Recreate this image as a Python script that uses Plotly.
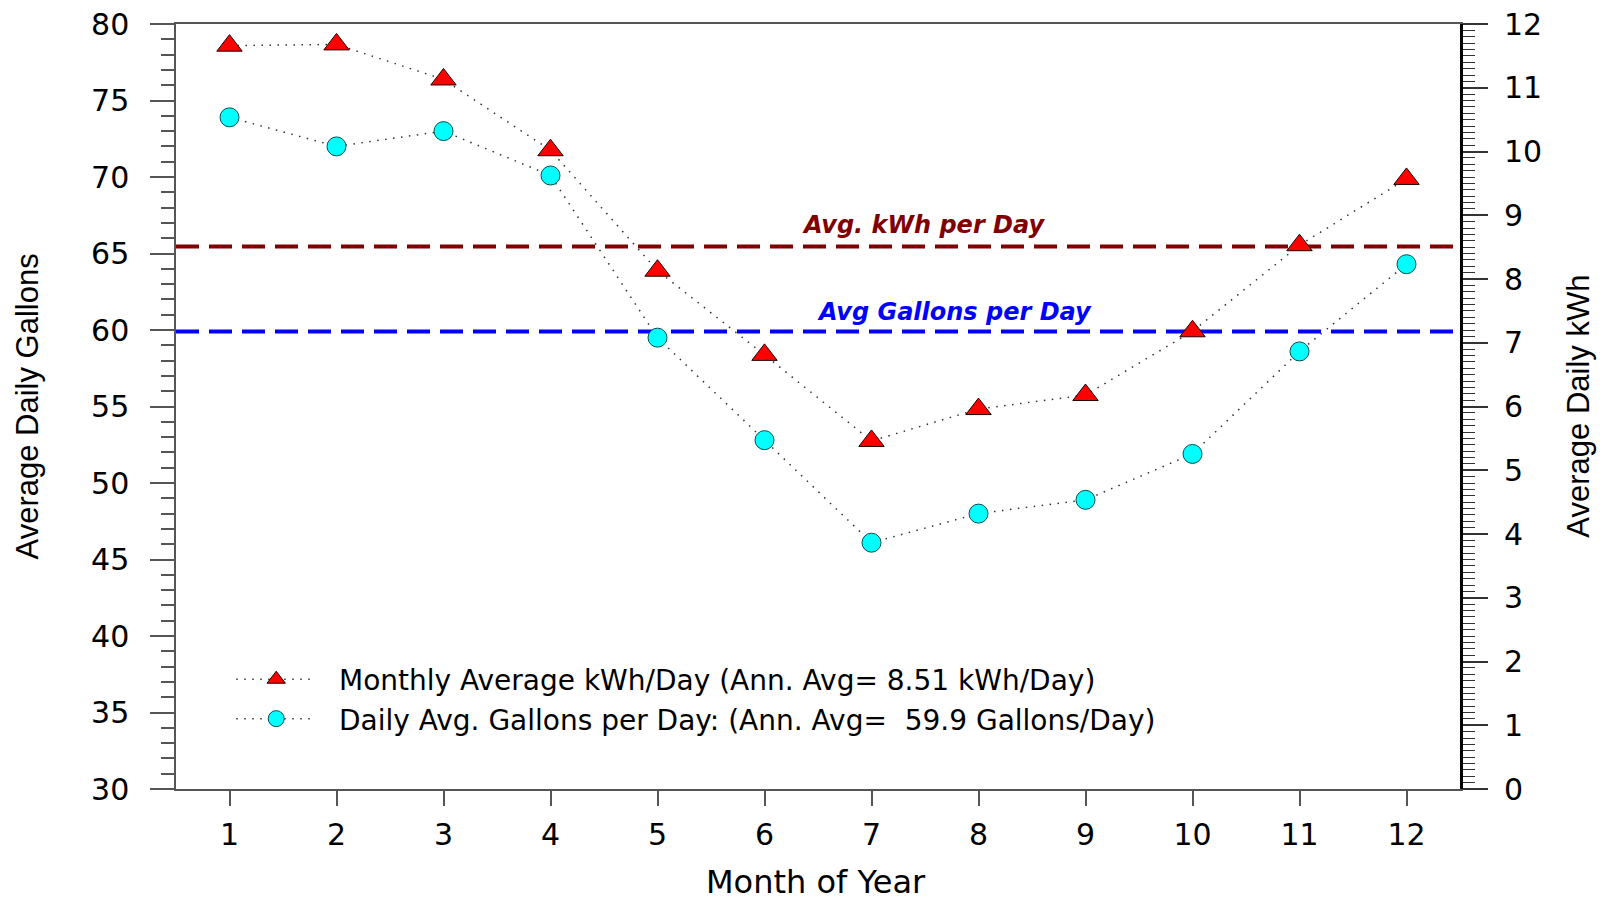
import plotly.graph_objects as go

MONTHS = [1, 2, 3, 4, 5, 6, 7, 8, 9, 10, 11, 12]
KWH_PER_DAY = [11.66, 11.68, 11.13, 10.02, 8.13, 6.81, 5.46, 5.96, 6.18, 7.18, 8.53, 9.57]
GALLONS_PER_DAY = [73.9, 72.0, 73.0, 70.1, 59.5, 52.8, 46.1, 48.0, 48.9, 51.9, 58.6, 64.3]
AVG_KWH = 8.51
AVG_GAL = 59.9

NAME_KWH = "\u00a0\u00a0Monthly Average kWh/Day (Ann. Avg= 8.51 kWh/Day)"
NAME_GAL = "\u00a0\u00a0Daily Avg. Gallons per Day: (Ann. Avg=\u00a0 59.9 Gallons/Day)"
LABEL_KWH = "Avg. kWh per Day"
LABEL_GAL = "Avg Gallons per Day"
X_TITLE = "Month of Year"
Y_TITLE = "Average Daily Gallons"
Y2_TITLE = "Average Daily kWh"

TICK_FONT = dict(family="DejaVu Sans", size=30, color="black")
NARROW = "Liberation Sans Narrow, Liberation Sans, Arial, sans-serif"

fig = go.Figure()

fig.add_trace(go.Scatter(
    x=MONTHS, y=KWH_PER_DAY, yaxis="y2", name=NAME_KWH,
    mode="lines+markers",
    line=dict(color="#303030", width=1.5, dash="1.5px,6.5px"),
    marker=dict(symbol="triangle-up", size=22, color="#FF0000",
                line=dict(color="#200000", width=1)),
))
fig.add_trace(go.Scatter(
    x=MONTHS, y=GALLONS_PER_DAY, yaxis="y", name=NAME_GAL,
    mode="lines+markers",
    line=dict(color="#303030", width=1.5, dash="1.5px,6.5px"),
    marker=dict(symbol="circle", size=19, color="#00FFFF",
                line=dict(color="#005050", width=1)),
))

fig.add_shape(type="line", xref="x domain", x0=0, x1=1, yref="y2", y0=AVG_KWH, y1=AVG_KWH,
              line=dict(color="#800000", width=4, dash="23px,10px"), layer="below")
fig.add_shape(type="line", xref="x domain", x0=0, x1=1, yref="y", y0=AVG_GAL, y1=AVG_GAL,
              line=dict(color="#0000FF", width=4, dash="23px,10px"), layer="below")

fig.add_annotation(x=7.49, y=AVG_KWH, xref="x", yref="y2", text=LABEL_KWH,
                   showarrow=False, yanchor="bottom", yshift=5,
                   font=dict(family="DejaVu Sans", size=24, color="#800000",
                             weight="bold", style="italic"))
fig.add_annotation(x=7.78, y=AVG_GAL, xref="x", yref="y", text=LABEL_GAL,
                   showarrow=False, yanchor="bottom", yshift=4,
                   font=dict(family="DejaVu Sans", size=24, color="#0000FF",
                             weight="bold", style="italic"))

fig.add_annotation(x=-0.1153, y=0.5, xref="paper", yref="paper", text=Y_TITLE,
                   showarrow=False, textangle=-90, xanchor="center", yanchor="middle",
                   font=dict(family=NARROW, size=31, color="black"))
fig.add_annotation(x=1.092, y=0.5, xref="paper", yref="paper", text=Y2_TITLE,
                   showarrow=False, textangle=-90, xanchor="center", yanchor="middle",
                   font=dict(family=NARROW, size=31, color="black"))
fig.add_annotation(x=0.4984, y=-0.121, xref="paper", yref="paper", text=X_TITLE,
                   showarrow=False, xanchor="center", yanchor="middle",
                   font=dict(family="DejaVu Sans", size=32, color="black"))

fig.update_layout(
    width=1606, height=900,
    margin=dict(l=176, r=146, t=24, b=111, pad=0),
    paper_bgcolor="white", plot_bgcolor="white",
    showlegend=True,
    legend=dict(x=0.043, y=0.1176, xanchor="left", yanchor="middle",
                bgcolor="rgba(0,0,0,0)", borderwidth=0,
                font=dict(family="DejaVu Sans", size=28, color="black"),
                itemwidth=80, tracegroupgap=0),
    xaxis=dict(range=[0.5, 12.5], tickvals=MONTHS, ticks="outside", ticklen=15,
               tickwidth=1.5, tickcolor="#555", showline=True, linecolor="#555",
               linewidth=1.5, mirror=True, showgrid=False, zeroline=False,
               tickfont=TICK_FONT, ticklabelstandoff=3, automargin=False),
    yaxis=dict(range=[30, 80], dtick=5, tick0=30, ticks="outside", ticklen=24,
               tickwidth=1.5, tickcolor="#555", showline=True, linecolor="#555",
               linewidth=1.5, showgrid=False, zeroline=False, tickfont=TICK_FONT,
               ticklabelstandoff=15, automargin=False,
               minor=dict(dtick=1, ticks="outside", ticklen=13, tickwidth=1.5,
                          tickcolor="#555", showgrid=False)),
    yaxis2=dict(range=[0, 12], dtick=1, tick0=0, overlaying="y", side="right",
                ticks="outside", ticklen=25, tickwidth=1.5, tickcolor="#333",
                showline=True, linecolor="black", linewidth=3, showgrid=False,
                zeroline=False, tickfont=TICK_FONT, ticklabelstandoff=10,
                automargin=False,
                minor=dict(dtick=0.1, ticks="outside", ticklen=12, tickwidth=1,
                           tickcolor="#333", showgrid=False)),
)

fig.write_html("out.html")
